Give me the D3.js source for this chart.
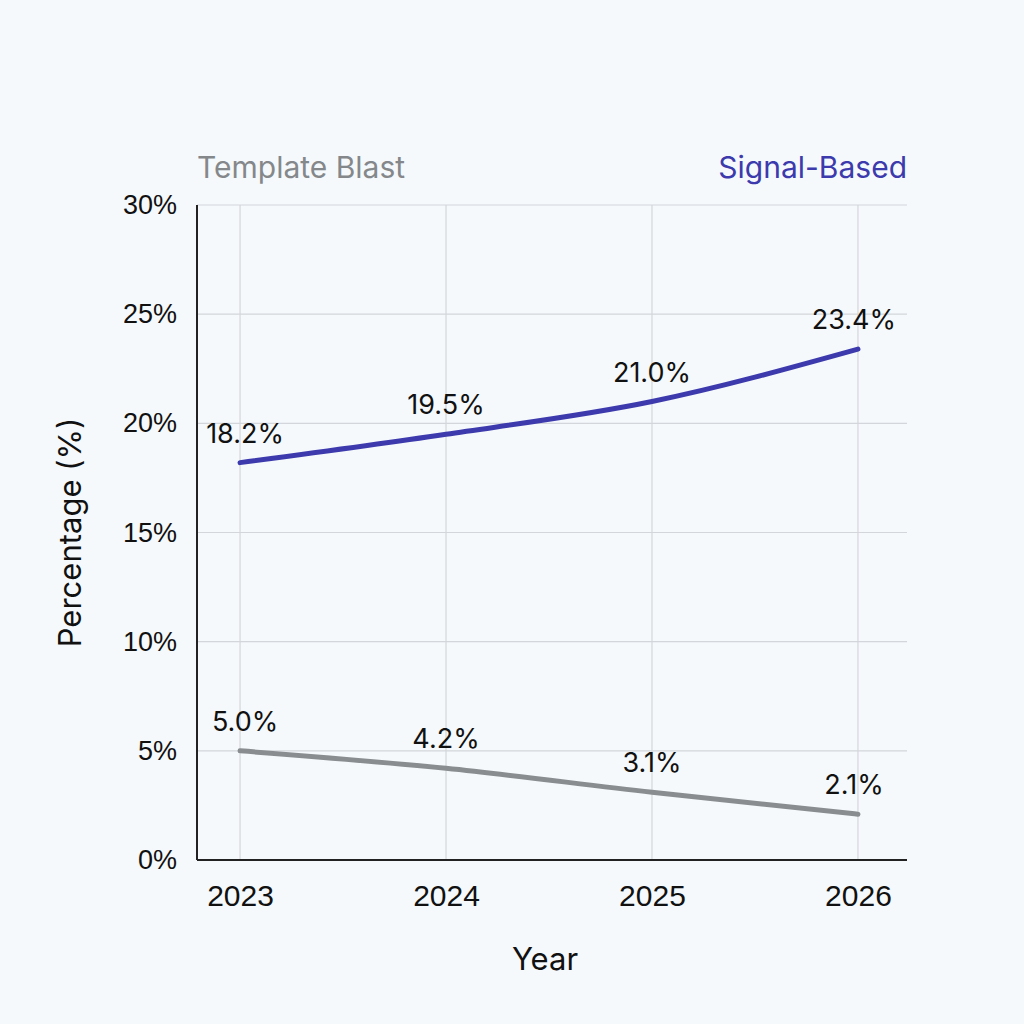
<!DOCTYPE html>
<html>
<head>
<meta charset="utf-8">
<script src="https://cdn.jsdelivr.net/npm/d3@7"></script>
<style>
  body { margin: 0; background: #f5f9fc; }
  svg { font-family: Inter, "Noto Sans", sans-serif; }
</style>
</head>
<body>
<div id="chart"></div>
<script>
/* DATA */
const years = [2023, 2024, 2025, 2026];
const signalBased = [18.2, 19.5, 21.0, 23.4];
const templateBlast = [5.0, 4.2, 3.1, 2.1];
const yTicks = [0, 5, 10, 15, 20, 25, 30];

const
  width = 1024,
  height = 1024,
  margin = { top: 205, right: 117, bottom: 164, left: 197 },
  plotRight = width - margin.right,
  blue = "#3c3aac",
  gray = "#8a8d90";

const svg = d3.select("#chart")
  .append("svg")
  .attr("width", width)
  .attr("height", height);

svg.append("rect")
  .attr("width", width)
  .attr("height", height)
  .attr("fill", "#f5f9fc");

// scales
const x = d3.scalePoint()
  .domain(years)
  .range([margin.left, plotRight - 6])
  .padding(0.209);

const y = d3.scaleLinear()
  .domain([0, 30])
  .range([height - margin.bottom, margin.top]);

// grid
const grid = svg.append("g");
grid.selectAll("line.h")
  .data(yTicks.slice(1))
  .join("line")
  .attr("class", "h")
  .attr("x1", margin.left)
  .attr("x2", plotRight)
  .attr("y1", d => y(d))
  .attr("y2", d => y(d))
  .attr("stroke", "#d3d6da")
  .attr("stroke-width", 1.2);

grid.selectAll("line.v")
  .data(years)
  .join("line")
  .attr("class", "v")
  .attr("x1", d => x(d))
  .attr("x2", d => x(d))
  .attr("y1", y(30))
  .attr("y2", y(0))
  .attr("stroke", "#d3d6da")
  .attr("stroke-width", 1.2);

// axes
const xAxis = d3.axisBottom(x).tickSize(0).tickPadding(28);
const yAxis = d3.axisLeft(y).tickValues(yTicks).tickSize(0).tickPadding(20).tickFormat(d => d + "%");

svg.append("g")
  .attr("transform", `translate(0,${y(0)})`)
  .call(xAxis)
  .call(g => g.select(".domain").attr("stroke", "#222").attr("stroke-width", 2)
    .attr("d", `M${margin.left},0H${plotRight}`))
  .call(g => g.selectAll("text").attr("font-size", 30).attr("fill", "#111").attr("dy", "0.6em"));

svg.append("g")
  .attr("transform", `translate(${margin.left},0)`)
  .call(yAxis)
  .call(g => g.select(".domain").attr("stroke", "#222").attr("stroke-width", 2)
    .attr("d", `M0,${y(30)}V${y(0)}`))
  .call(g => g.selectAll("text").attr("font-size", 27).attr("fill", "#111"));

// axis titles
svg.append("text")
  .attr("x", (margin.left + plotRight) / 2 - 7)
  .attr("y", 970)
  .attr("text-anchor", "middle")
  .attr("font-size", 31)
  .attr("fill", "#111")
  .text("Year");

svg.append("text")
  .attr("transform", `translate(81,${(y(0) + y(30)) / 2}) rotate(-90)`)
  .attr("text-anchor", "middle")
  .attr("font-size", 31)
  .attr("fill", "#111")
  .text("Percentage (%)");

// series labels at top
svg.append("text")
  .attr("x", margin.left)
  .attr("y", 178)
  .attr("font-size", 30)
  .attr("fill", "#85888b")
  .text("Template Blast");

svg.append("text")
  .attr("x", plotRight)
  .attr("y", 178)
  .attr("text-anchor", "end")
  .attr("font-size", 30)
  .attr("fill", blue)
  .text("Signal-Based");

// lines
const line = d3.line()
  .x((d, i) => x(years[i]))
  .y(d => y(d))
  .curve(d3.curveMonotoneX);

svg.append("path")
  .datum(templateBlast)
  .attr("d", line)
  .attr("fill", "none")
  .attr("stroke", gray)
  .attr("stroke-width", 5)
  .attr("stroke-linecap", "round");

svg.append("path")
  .datum(signalBased)
  .attr("d", line)
  .attr("fill", "none")
  .attr("stroke", blue)
  .attr("stroke-width", 5)
  .attr("stroke-linecap", "round");

// value labels
function valueLabels(data) {
  svg.append("g")
    .selectAll("text")
    .data(data)
    .join("text")
    .attr("x", (d, i) => x(years[i]) + (i === 0 ? 5 : i === 3 ? -4 : 0))
    .attr("y", d => y(d) - 20)
    .attr("text-anchor", "middle")
    .attr("font-size", 27)
    .attr("fill", "#111")
    .text(d => d.toFixed(1) + "%");
}
valueLabels(signalBased);
valueLabels(templateBlast);
</script>
</body>
</html>
